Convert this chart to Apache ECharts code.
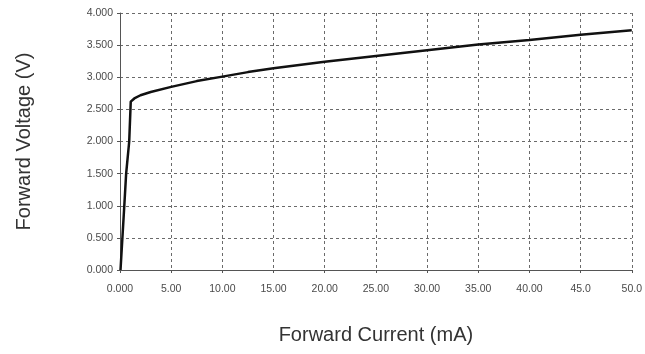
<!DOCTYPE html>
<html>
<head>
<meta charset="utf-8">
<script src="https://cdn.jsdelivr.net/npm/echarts@6/dist/echarts.min.js"></script>
<style>html,body{margin:0;padding:0;background:#fff;}#c{width:645px;height:354px;}</style>
</head>
<body>
<div id="c"></div>
<script>
var currentMA = [0.05, 0.42, 0.6, 0.9, 1.05, 1.4, 2, 3, 5, 7.5, 10, 12.5, 15, 20, 25, 30, 35, 40, 45, 50];
var voltageV  = [0.0, 1.0, 1.5, 2.0, 2.62, 2.67, 2.72, 2.77, 2.85, 2.94, 3.01, 3.08, 3.14, 3.24, 3.33, 3.42, 3.51, 3.58, 3.66, 3.73];
var xTickLabels = {0:'0.000',5:'5.00',10:'10.00',15:'15.00',20:'20.00',25:'25.00',30:'30.00',35:'35.00',40:'40.00',45:'45.0',50:'50.0'};
var yTickDecimals = 3;
var xTitle = 'Forward Current (mA)';
var yTitle = 'Forward Voltage (V)';

var pts = currentMA.map(function(x, i){ return [x, voltageV[i]]; });
var chart = echarts.init(document.getElementById('c'));
var gridDash = {color:'#6a6a6a', width:1, type:[3,3]};
chart.setOption({
  animation:false,
  grid:{left:120, right:12, top:13, bottom:84, containLabel:false},
  xAxis:{
    type:'value', min:0, max:50, interval:5, offset:8,
    name:xTitle, nameLocation:'middle', nameGap:47,
    nameTextStyle:{fontFamily:'Liberation Sans', fontSize:20, color:'#333'},
    axisLine:{show:true, lineStyle:{color:'#555', width:1}},
    axisTick:{show:true, length:3, lineStyle:{color:'#555'}},
    axisLabel:{margin:6, fontFamily:'Liberation Sans', fontSize:10.5, color:'#4a4a4a',
      formatter:function(v){ return xTickLabels[v] !== undefined ? xTickLabels[v] : v; }},
    splitLine:{show:true, lineStyle:gridDash}
  },
  yAxis:{
    type:'value', min:0, max:4, interval:0.5, offset:3,
    name:yTitle, nameLocation:'middle', nameGap:83, nameRotate:90,
    nameTextStyle:{fontFamily:'Liberation Sans', fontSize:20, color:'#333'},
    axisLine:{show:true, lineStyle:{color:'#555', width:1}},
    axisTick:{show:true, length:3, lineStyle:{color:'#555'}},
    axisLabel:{margin:4, fontFamily:'Liberation Sans', fontSize:10.5, color:'#4a4a4a',
      formatter:function(v){ return v.toFixed(yTickDecimals); }},
    splitLine:{show:true, lineStyle:gridDash}
  },
  series:[{
    type:'line', data:pts, showSymbol:false, smooth:false,
    lineStyle:{color:'#111', width:2.5}
  }]
});
</script>
</body>
</html>
